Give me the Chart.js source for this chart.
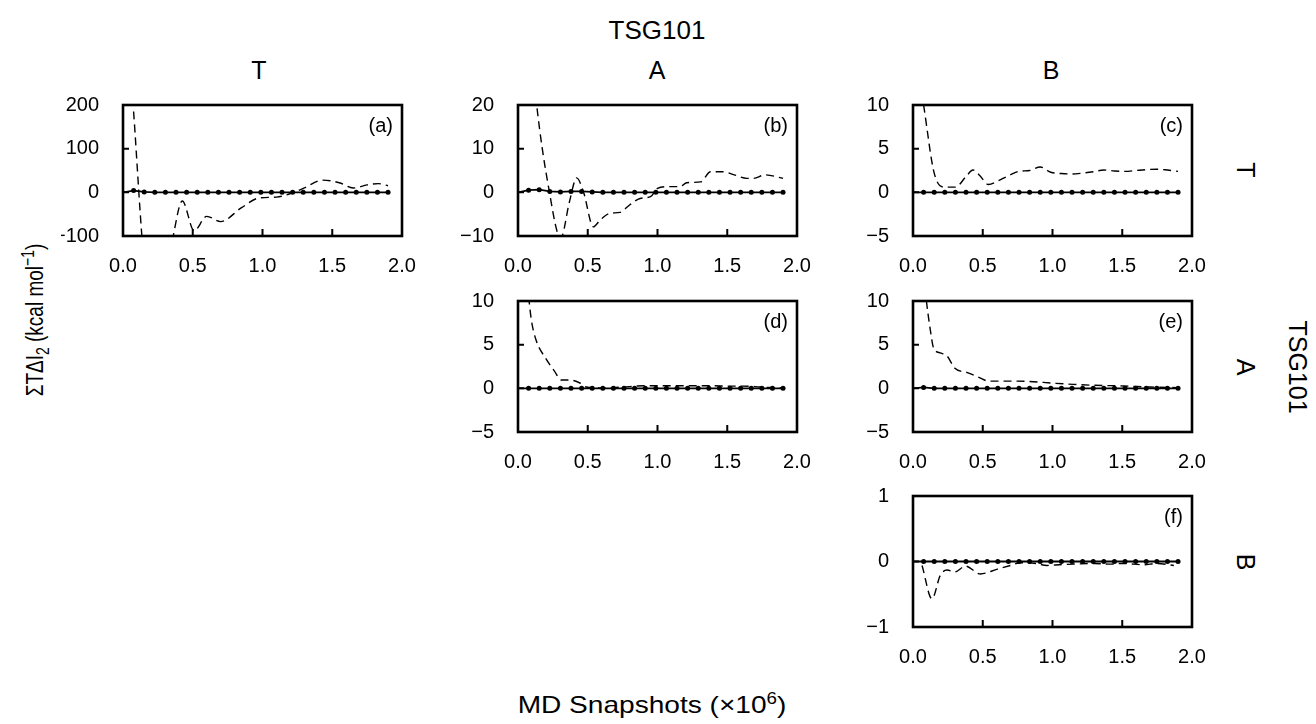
<!DOCTYPE html>
<html>
<head>
<meta charset="utf-8">
<script src="https://cdn.jsdelivr.net/npm/chart.js@4.4.1/dist/chart.umd.min.js"></script>
<style>
  body { margin: 0; background: #fff; }
  #fig { position: relative; width: 1316px; height: 724px; overflow: hidden; font-family: "Liberation Sans", Arial, Helvetica, sans-serif; color: #000; }
  #fig canvas { position: absolute; }
  .lbl { position: absolute; white-space: nowrap; transform: translate(-50%, -50%); line-height: 1; }
  .rot { transform: translate(-50%, -50%) rotate(90deg); }
  .ytitle { transform: translate(-50%, -50%) rotate(-90deg) scaleY(1.3); }
  .xtitle { transform: translate(-50%, -50%) scaleX(1.17); }
</style>
</head>
<body>
<div id="fig">
  <div class="lbl" style="left:657px; top:30px; font-size:26px;">TSG101</div>
  <div class="lbl" style="left:259px; top:70px; font-size:25px;">T</div>
  <div class="lbl" style="left:657px; top:70px; font-size:25px;">A</div>
  <div class="lbl" style="left:1051px; top:70px; font-size:25px;">B</div>
  <div class="lbl rot" style="left:1245px; top:170px; font-size:25px;">T</div>
  <div class="lbl rot" style="left:1245px; top:367px; font-size:25px;">A</div>
  <div class="lbl rot" style="left:1245px; top:562px; font-size:25px;">B</div>
  <div class="lbl rot" style="left:1297px; top:367px; font-size:25px;">TSG101</div>
  <div class="lbl ytitle" style="left:35px; top:320px; font-size:19px;">&Sigma;T&Delta;I<sub style="font-size:14px">2</sub> (kcal mol<sup style="font-size:14px">&minus;1</sup>)</div>
  <div class="lbl xtitle" style="left:652px; top:704px; font-size:24px;">MD Snapshots (&times;10<sup style="font-size:16px">6</sup>)</div>
</div>
<script>
// snapshot positions (x10^6) of the dotted reference curve
const snapX = [0, 0.076, 0.152, 0.228, 0.304, 0.38, 0.456, 0.532, 0.608, 0.684, 0.76, 0.836, 0.912,
               0.988, 1.064, 1.14, 1.216, 1.292, 1.368, 1.444, 1.52, 1.596, 1.672, 1.748, 1.824, 1.9];

// dotted (converged) curves
const solidA = [0, 4, 1, 0, 0, 0, 0, 0, 0, 0, 0, 0, 0, 0, 0, 0, 0, 0, 0, 0, 0, 0, 0, 0, 0, 0];
const solidB = [0, 0.5, 0.6, 0.2, 0.1, 0.2, 0.2, 0.1, 0, 0, 0, 0, 0, 0, 0, 0, 0, 0, 0, 0, 0, 0, 0, 0, 0, 0];
const solidC = [0, 0, 0, 0, 0, 0, 0, 0, 0, 0, 0, 0, 0, 0, 0, 0, 0, 0, 0, 0, 0, 0, 0, 0, 0, 0];
const solidD = [0, 0, 0, 0, 0, 0, 0, 0, 0, 0, 0, 0, 0, 0, 0, 0, 0, 0, 0, 0, 0, 0, 0, 0, 0, 0];
const solidE = [0, 0.1, 0, 0, 0, 0, 0, 0, 0, 0, 0, 0, 0, 0, 0, 0, 0, 0, 0, 0, 0, 0, 0, 0, 0, 0];
const solidF = [0, 0, 0, 0, 0, 0, 0, 0, 0, 0, 0, 0, 0, 0, 0, 0, 0, 0, 0, 0, 0, 0, 0, 0, 0, 0];

// dashed curves
const dashAX = [0.076, 0.152, 0.25, 0.36, 0.425, 0.51, 0.6, 0.7, 0.85, 0.975, 1.1, 1.2, 1.3, 1.43, 1.55, 1.65, 1.75, 1.83, 1.9];
const dashAY = [185, -160, -300, -100, -20, -88, -55, -67, -35, -13, -11, -3, 10, 28, 22, 10, 17, 20, 15];

const dashBX = [0.076, 0.134, 0.22, 0.306, 0.37, 0.42, 0.47, 0.54, 0.59, 0.66, 0.73, 0.80, 0.875, 0.95, 1.0,
                1.07, 1.16, 1.21, 1.31, 1.38, 1.47, 1.55, 1.64, 1.69, 1.77, 1.9];
const dashBY = [40, 20, 1, -10.5, -2, 3.3, 0, -7.9, -6.3, -4.8, -4.6, -2.9, -1.4, -1, 0.9,
                1.3, 1.3, 2.2, 2.4, 4.7, 4.7, 4, 3.2, 3.2, 4, 3.2];

const dashCX = [0.076, 0.152, 0.228, 0.304, 0.38, 0.43, 0.48, 0.54, 0.608, 0.684, 0.76, 0.836, 0.912, 0.988,
                1.064, 1.14, 1.216, 1.292, 1.368, 1.444, 1.52, 1.596, 1.672, 1.748, 1.824, 1.9];
const dashCY = [10, 2.2, 0.6, 0.6, 1.8, 2.55, 1.9, 0.9, 1.3, 1.9, 2.4, 2.5, 2.9, 2.3,
                2.15, 2.1, 2.2, 2.35, 2.55, 2.45, 2.4, 2.5, 2.6, 2.65, 2.55, 2.4];

const dashDX = [0.076, 0.096, 0.13, 0.2, 0.26, 0.31, 0.37, 0.44, 0.49, 0.6, 0.7, 0.8, 0.9, 1.0, 1.1, 1.2, 1.3, 1.4, 1.5, 1.6, 1.7, 1.8, 1.9];
const dashDY = [10.5, 7.8, 5.5, 3.4, 2.0, 0.95, 0.95, 0.64, 0.15, 0.05, 0.1, 0.2, 0.3, 0.3, 0.3, 0.3, 0.3, 0.3, 0.25, 0.25, 0.2, 0.1, 0.05];

const dashEX = [0.076, 0.096, 0.124, 0.148, 0.196, 0.244, 0.30, 0.39, 0.48, 0.54, 0.7, 0.82, 1.0, 1.15, 1.3, 1.51, 1.7, 1.89];
const dashEY = [13, 10, 6.7, 4.6, 4.05, 3.7, 2.3, 1.8, 1.2, 0.83, 0.83, 0.8, 0.6, 0.45, 0.35, 0.27, 0.15, 0.08];

const dashFX = [0.065, 0.136, 0.196, 0.244, 0.30, 0.376, 0.483, 0.60, 0.70, 0.77, 0.88, 0.96, 1.05, 1.15, 1.3, 1.4, 1.51, 1.65, 1.75, 1.87];
const dashFY = [-0.06, -0.57, -0.21, -0.13, -0.16, -0.07, -0.19, -0.12, -0.06, -0.02, -0.03, -0.06, -0.05, -0.04, -0.03, -0.04, -0.03, -0.05, -0.03, -0.06];

// x ticks
const xTicks = ["0.0", "0.5", "1.0", "1.5", "2.0"];

const panels = [
  { tag: "(a)", left: 123, top: 105, yMin: -100, yMax: 200, yStep: 100, solid: solidA, dx: dashAX, dy: dashAY },
  { tag: "(b)", left: 518, top: 105, yMin: -10, yMax: 20, yStep: 10, solid: solidB, dx: dashBX, dy: dashBY },
  { tag: "(c)", left: 913, top: 105, yMin: -5, yMax: 10, yStep: 5, solid: solidC, dx: dashCX, dy: dashCY },
  { tag: "(d)", left: 518, top: 301, yMin: -5, yMax: 10, yStep: 5, solid: solidD, dx: dashDX, dy: dashDY },
  { tag: "(e)", left: 913, top: 301, yMin: -5, yMax: 10, yStep: 5, solid: solidE, dx: dashEX, dy: dashEY },
  { tag: "(f)", left: 913, top: 496, yMin: -1, yMax: 1, yStep: 1, solid: solidF, dx: dashFX, dy: dashFY }
];

const FONT = '"Liberation Sans", Arial, Helvetica, sans-serif';
// top/right padding must exceed the scales' own label overflow (half label + tick padding)
const AXIS_W = 62, PAD_TOP = 32, PAD_RIGHT = 28, XAXIS_H = 40;
const PLOT_W = 279, PLOT_H = 131;

// box frame, inward ticks and panel tag
const framePlugin = {
  id: "frame",
  afterDatasetsDraw(chart, args, opts) {
    const { ctx, chartArea: a, scales } = chart;
    ctx.save();
    ctx.strokeStyle = "#000";
    ctx.lineWidth = 2;
    ctx.beginPath();
    scales.x.ticks.forEach(t => {
      if (t.value > scales.x.min && t.value < scales.x.max) {
        const px = scales.x.getPixelForValue(t.value);
        ctx.moveTo(px, a.bottom);
        ctx.lineTo(px, a.bottom - 7);
      }
    });
    scales.y.ticks.forEach(t => {
      if (t.value > scales.y.min && t.value < scales.y.max) {
        const py = scales.y.getPixelForValue(t.value);
        ctx.moveTo(a.left, py);
        ctx.lineTo(a.left + 6, py);
      }
    });
    ctx.stroke();
    ctx.lineWidth = 2.6;
    ctx.strokeRect(a.left, a.top, a.right - a.left, a.bottom - a.top);
    ctx.fillStyle = "#000";
    ctx.font = "20px " + FONT;
    ctx.textAlign = "right";
    ctx.textBaseline = "top";
    ctx.fillText(opts.tag, a.right - 9, a.top + 11);
    ctx.restore();
  }
};

const fig = document.getElementById("fig");

panels.forEach(p => {
  const cv = document.createElement("canvas");
  cv.width = AXIS_W + PLOT_W + PAD_RIGHT;
  cv.height = PAD_TOP + PLOT_H + XAXIS_H;
  cv.style.left = (p.left - AXIS_W) + "px";
  cv.style.top = (p.top - PAD_TOP) + "px";
  fig.appendChild(cv);

  new Chart(cv.getContext("2d"), {
    type: "line",
    data: {
      datasets: [
        {
          data: p.dx.map((x, i) => ({ x: x, y: p.dy[i] })),
          borderColor: "#000",
          borderWidth: 1.4,
          borderDash: [8, 5],
          pointRadius: 0,
          cubicInterpolationMode: "monotone",
          clip: 0
        },
        {
          data: snapX.map((x, i) => ({ x: x, y: p.solid[i] })),
          borderColor: "#000",
          borderWidth: 1.8,
          backgroundColor: "#000",
          pointRadius: snapX.map((x, i) => i === 0 ? 0 : 2.5),
          pointBorderWidth: 0,
          tension: 0,
          clip: 0
        }
      ]
    },
    options: {
      responsive: false,
      animation: false,
      devicePixelRatio: 1,
      layout: { padding: { top: PAD_TOP, right: PAD_RIGHT, left: 0, bottom: 0 } },
      plugins: {
        legend: { display: false },
        tooltip: { enabled: false },
        frame: { tag: p.tag }
      },
      scales: {
        x: {
          type: "linear",
          min: 0,
          max: 2,
          grid: { display: false },
          border: { display: false },
          afterFit: s => { s.height = XAXIS_H; },
          ticks: {
            stepSize: 0.5,
            autoSkip: false,
            maxRotation: 0,
            padding: 10,
            color: "#000",
            font: { family: FONT, size: 20 },
            callback: v => xTicks[Math.round(v * 2)]
          }
        },
        y: {
          type: "linear",
          min: p.yMin,
          max: p.yMax,
          grid: { display: false },
          border: { display: false },
          afterFit: s => { s.width = AXIS_W; },
          ticks: {
            stepSize: p.yStep,
            padding: 16,
            color: "#000",
            font: { family: FONT, size: 20 },
            callback: v => String(v).replace("-", "\u2212")
          }
        }
      }
    },
    plugins: [framePlugin]
  });
});
</script>
</body>
</html>
